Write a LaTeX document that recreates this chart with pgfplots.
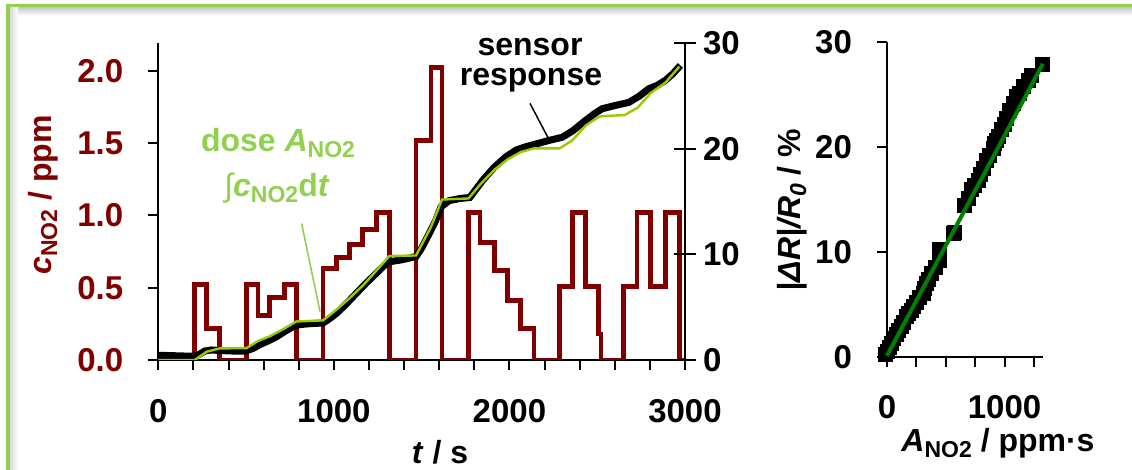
\documentclass[border=0pt]{standalone}
\usepackage{fontspec}
\setmainfont{Liberation Sans}
\usepackage{pgfplots}
\pgfplotsset{compat=1.18}
\definecolor{nored}{RGB}{128,0,0}
\definecolor{doselime}{RGB}{153,204,0}
\definecolor{dosetext}{RGB}{146,208,80}
\definecolor{fitgreen}{RGB}{0,128,0}
\definecolor{framegreen}{RGB}{146,208,80}
\newcommand\sub[1]{\raisebox{-0.35ex}{\fontsize{11.5}{12}\selectfont #1}}
\pgfplotsset{
  common/.style={
    scale only axis, anchor=south west,
    axis line style={line width=1pt},
    tick style={black, line width=1pt},
    major tick length=5pt, minor tick length=5pt,
    /pgf/number format/assume math mode=true,
    /pgf/number format/1000 sep={},
    ticklabel style={font=\fontsize{16.5}{19}\selectfont\bfseries},
  },
  outticks/.style={
    xticklabel style={yshift=-11pt},
    yticklabel style={xshift=-9pt},
  },
  doseframe/.style={
    at={(443.5pt,56.65pt)}, width=78pt, height=157.5pt,
    xmin=0, xmax=1327, ymin=0, ymax=30, clip=false,
  },
}

\begin{document}
\begin{tikzpicture}[font=\fontsize{16}{19}\selectfont\bfseries]
\fill[white] (0pt,0pt) rectangle (566pt,235pt);
% frame with soft shadow
\shade[top color=black!22, bottom color=white] (4pt,227.2pt) rectangle (566pt,231.4pt);
\shade[left color=black!15, right color=white] (5pt,0pt) rectangle (9pt,231.4pt);
\draw[framegreen, line width=1.8pt] (4pt,0pt) -- (4pt,232.3pt) -- (566pt,232.3pt);

% concentration (left axis)
\begin{axis}[common, outticks,
  at={(79.15pt,55pt)}, width=263.35pt, height=158.35pt,
  xmin=0, xmax=3000, ymin=0, ymax=2.19,
  axis x line*=bottom, axis y line*=left, tick align=outside,
  xtick={0,1000,2000,3000}, minor xtick={200,400,...,2800},
  ytick={0,0.5,1,1.5,2},
  yticklabel style={nored, /pgf/number format/.cd, fixed, fixed zerofill, precision=1},
]
\addplot[nored, line width=2.4pt, const plot] coordinates {
 (0,0) (208,0.52) (275,0.22) (350,0) (502,0.52) (568,0.31) (635,0.43)
 (720,0.52) (786,0) (938,0.63) (1013,0.71) (1089,0.80) (1165,0.90)
 (1241,1.02) (1316,0) (1468,1.52) (1553,2.02) (1616,0) (1767,1.02)
 (1832,0.81) (1913,0.62) (1989,0.41) (2065,0.22) (2140,0) (2286,0.51)
 (2358,1.02) (2434,0.51) (2508,0.18) (2522,0) (2652,0.51) (2727,1.02)
 (2803,0.51) (2889,1.02) (2968,0) (2995,0)};
\end{axis}

% sensor response and dose (right axis)
\begin{axis}[common,
  at={(79.15pt,55pt)}, width=263.35pt, height=158.35pt,
  xmin=0, xmax=3000, ymin=0, ymax=30,
  axis x line=none, axis y line*=right, tick align=center,
  major tick length=11pt, ytick={0,10,20,30},
]
\addplot[black, line width=3.5pt] coordinates {
 (0,0.45) (100,0.4) (200,0.35) (230,0.5) (265,0.85) (300,0.95) (350,0.9)
 (420,0.85) (500,0.85) (540,1.1) (578,1.45) (625,1.8) (673,2.2) (720,2.7)
 (767,3.15) (805,3.35) (870,3.45) (938,3.5) (975,3.9) (1014,4.4) (1070,5.3)
 (1127,6.3) (1185,7.3) (1241,8.2) (1280,8.85) (1316,9.3) (1390,9.5)
 (1468,9.8) (1500,10.6) (1544,12.0) (1580,13.2) (1610,14.5) (1657,15.1)
 (1720,15.3) (1775,15.4) (1847,17.0) (1910,18.2) (1980,19.25) (2040,19.9)
 (2093,20.2) (2160,20.5) (2226,20.8) (2301,21.1) (2360,21.7) (2434,22.7)
 (2490,23.4) (2528,23.8) (2600,24.1) (2680,24.4) (2740,25.0) (2794,25.7)
 (2840,26.0) (2889,26.5) (2930,27.1) (2974,27.9)};
\addplot[doselime, line width=1.2pt] coordinates {
 (0,0) (208,0) (275,0.78) (350,1.1) (502,1.12) (568,1.8) (635,2.25)
 (720,3.0) (786,3.65) (938,3.75) (1013,4.75) (1089,5.85) (1165,7.05)
 (1241,8.45) (1316,9.85) (1468,9.9) (1553,12.6) (1616,15.2) (1767,15.3)
 (1832,16.6) (1913,18.0) (1989,19.0) (2065,19.7) (2140,20.05) (2286,20.05)
 (2358,20.8) (2434,22.2) (2506,23.0) (2522,23.1) (2655,23.2) (2730,23.9)
 (2806,25.3) (2890,26.3) (2968,27.8)};
\end{axis}

% response versus dose
\begin{axis}[common, outticks, doseframe,
  axis x line*=bottom, axis y line*=left, tick align=outside,
  xtick={0,1000}, minor xtick={250,500,750,1250},
  ytick={0,10,20,30},
]
\addplot[only marks, mark=square*, mark size=3.5pt, black] coordinates {
 (-11,0.2) (0,0.5) (18,0.9) (37,1.3) (58,1.7) (79,2.1) (100,2.5) (122,2.9)
 (143,3.3) (164,3.8) (185,4.1) (207,4.4) (228,4.8) (249,5.2) (278,5.6)
 (306,6.0) (320,6.5) (334,7.0) (355,7.4) (377,7.9) (410,8.5) (448,9.2)
 (448,10.2) (561,11.7) (576,11.8)
 (660,14.4) (689,15.1) (717,15.9) (745,16.3) (774,16.8) (795,17.4)
 (816,17.9) (845,18.7) (873,19.2) (901,19.8) (916,20.3) (930,20.6)
 (944,21.0) (972,21.6) (995,22.1) (1015,22.7) (1043,23.5) (1071,24.1)
 (1100,24.8) (1129,25.1) (1160,25.7) (1199,26.3) (1227,26.8) (1326,27.8)};
\end{axis}
% linear fit drawn over the squares
\begin{axis}[common, doseframe, axis lines=none, ticks=none]
\addplot[fitgreen, line width=2pt] coordinates {(0,0.1) (1326,27.9)};
\end{axis}

% labels
\node[nored, rotate=90] at (21.5pt,137.5pt) {\textit{c}\sub{NO2} / ppm};
\node at (220pt,9pt) {\textit{t} / s};
\node at (499pt,13.5pt) {\textit{A}\sub{NO2} / ppm·s};
\node[rotate=90] at (396pt,130pt) {\textit{|ΔR|/R\sub{0}} / \%};
% annotations
\node[dosetext] at (139pt,163.5pt) {dose \textit{A}\sub{NO2}};
\node[dosetext] at (138.5pt,141pt) {{\mdseries∫}\textit{c}\sub{NO2}d\textit{t}};
\draw[dosetext, line width=0.8pt] (150.8pt,123.3pt) -- (160pt,79.2pt);
\node at (265pt,211.5pt) {sensor};
\node at (265.5pt,195pt) {response};
\draw[black, line width=0.75pt] (265pt,183.3pt) -- (274.2pt,165.8pt);
\pgfresetboundingbox
\path[use as bounding box] (0pt,0pt) rectangle (566pt,235pt);
\end{tikzpicture}
\end{document}
